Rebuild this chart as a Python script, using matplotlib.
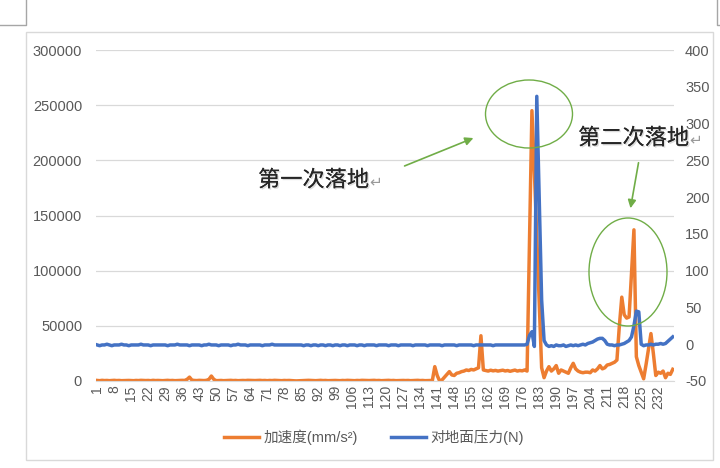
import matplotlib
matplotlib.use("Agg")
import matplotlib.pyplot as plt
import matplotlib.patheffects as pe
from matplotlib.patches import Ellipse, Rectangle
from matplotlib.lines import Line2D
from matplotlib.font_manager import FontProperties

plt.rcParams['font.family'] = ['Liberation Sans', 'Noto Sans CJK SC', 'DejaVu Sans']
plt.rcParams['axes.unicode_minus'] = False

# sample index 1..238
categories = list(range(1, 239))

# 加速度 (mm/s²), left axis
accel = [
    500, 300, 600, 400, 500, 300, 500, 600, 400, 500, 300, 400, 600, 500, 400, 300, 500, 400, 600, 500,
    400, 500, 300, 600, 400, 500, 400, 300, 500, 600, 400, 500, 300, 400, 500, 600, 500, 1500, 3500, 800,
    500, 400, 600, 500, 400, 600, 1500, 4500, 1500, 300, 400, 500, 300, 400, 500, 600, 400, 500, 300, 400,
    500, 400, 600, 500, 300, 400, 500, 600, 400, 500, 300, 500, 400, 600, 500, 400, 300, 500, 400, 500,
    300, 200, 100, 200, 300, 500, 400, 600, 500, 400, 300, 500, 600, 400, 500, 300, 400, 600, 500, 400,
    300, 500, 400, 600, 500, 400, 300, 500, 400, 600, 500, 300, 400, 500, 600, 400, 500, 300, 400, 500,
    600, 400, 500, 300, 400, 600, 500, 400, 500, 300, 400, 500, 600, 400, 500, 300, 400, 500,
    500, 13000, 5000, 0, 1000, 3500, 6000, 8500, 5500, 5000, 7000, 7500, 8500, 9000, 10000, 9500, 10500, 10000, 11000, 12000,
    41000, 10000, 9500, 9000, 9800, 9200, 9600, 9000, 9400, 9800, 9100, 9500, 8800, 9400, 9900, 9000, 9500, 9200, 10000, 9000,
    125000, 245000, 190000, 130000, 70000, 12000, 3000, 9000, 13000, 9000, 11000, 14000, 7000, 10000, 9000, 8000, 7000, 12000, 16000, 11000,
    9000, 8000, 7500, 8000, 8000, 7500, 10000, 9000, 11000, 14000, 11000, 12000, 14500, 15000, 16000, 17000, 19000, 50000, 76000, 60000,
    57000, 58000, 97000, 137000, 22000, 14000, 8000, 2000, 15000, 29000, 43000, 25000, 5000, 8000, 7000, 9000, 3000, 7000, 6000, 10600,
]

# 对地面压力 (N), right axis
force = [
    -1, -2, -1, -1, 0, -1, -2, -1, -1, -1, 0, -1, -1, -2, -1, -1, -1, -1, 0, -1,
    -1, -1, -2, -1, -1, -1, -1, -1, -1, -2, -1, -1, -1, 0, -1, -1, -1, -1, -2, -1,
    -1, -1, -1, -2, -1, -1, 0, -1, -1, -1, -2, -1, -1, -1, -1, -2, -1, -1, 0, -1,
    -1, -1, -2, -1, -1, -1, -1, -1, -2, -1, -1, -1, 0, -1, -1, -1, -1, -1, -1, -1,
    -1, -1, -1, -1, -1, -2, -1, -1, -2, -1, -1, -2, -1, -1, -2, -1, -1, -2, -1, -1,
    -2, -1, -1, -2, -1, -1, -1, -2, -1, -1, -2, -1, -1, -1, -1, -2, -1, -1, -1, -1,
    -2, -1, -1, -1, -2, -1, -1, -1, -1, -1, -2, -1, -1, -1, -1, -1, -2, -1, -1, -1,
    -1, -1, -2, -1, -1, -1, -1, -1, -2, -1, -1, -1, -1, -1, -1, -2, -1, -1, -1, -1,
    -1, -1, -1, -2, -1, -1, -1, -1, -1, -1, -1, -1, -1, -1, -1, -1, -1, 0,
    12, 17, -3, 337, 200, 60, 5, -1,
    -3, -2, -3, -1, -2, -2, -1, -3, -2, -1, -2, -1, -2, -1, 0, -1, 1, 2,
    3, 5, 7, 8, 8, 5, 0, -1, -1, -2, -1, -1, 0, 1, 3, 5, 10, 25, 45, 44,
    0, -2, -1, -1, 0, -1, 0, 0, 1, 0, 1, 4, 7, 10,
]

assert len(accel) == len(categories) and len(force) == len(categories)

orange = '#ED7D31'
blue = '#4472C4'
grid_c = '#D9D9D9'
tick_c = '#595959'
green = '#70AD47'

W, H = 720, 468
fig = plt.figure(figsize=(W / 100, H / 100), dpi=100)

ax = fig.add_axes([96 / W, 1 - 381 / H, (674 - 96) / W, (381 - 50) / H])
ax.plot(categories, accel, color=orange, lw=2.5, solid_joinstyle='round')
ax.set_xlim(0.5, 238.5)
ax.set_ylim(0, 300000)
ax.set_yticks(range(0, 300001, 50000))
ax.grid(axis='y', color=grid_c, lw=0.9)
ax.set_axisbelow(True)
for s in ['top', 'left', 'right']:
    ax.spines[s].set_visible(False)
ax.spines['bottom'].set_color(grid_c)
ax.set_xticks(categories[::7])
ax.set_xticklabels([str(c) for c in categories[::7]], rotation=90, fontsize=10, color=tick_c)
ax.tick_params(axis='x', length=0, pad=3)
ax.tick_params(axis='y', length=0, pad=10, labelsize=10.5, labelcolor=tick_c)

ax2 = ax.twinx()
ax2.plot(categories, force, color=blue, lw=2.5, solid_joinstyle='round')
ax2.set_ylim(-50, 400)
ax2.set_yticks(range(-50, 401, 50))
for s in ax2.spines.values():
    s.set_visible(False)
ax2.tick_params(axis='y', length=0, pad=8, labelsize=10.5, labelcolor=tick_c)

handles = [Line2D([], [], color=orange, lw=2.5), Line2D([], [], color=blue, lw=2.5)]
fig.legend(handles, ['加速度(mm/s²)', '对地面压力(N)'], loc='center', ncol=2,
           bbox_to_anchor=(374 / W, 1 - 437 / H), frameon=False, handlelength=2.4,
           handletextpad=0.3, columnspacing=2.3,
           prop=FontProperties(family=['Liberation Sans', 'Noto Sans CJK SC'], size=10.5),
           labelcolor=tick_c)

# overlay in pixel coordinates for the frame and the hand-drawn notes
ov = fig.add_axes([0, 0, 1, 1], zorder=10)
ov.set_xlim(0, W)
ov.set_ylim(H, 0)
ov.axis('off')
ov.patch.set_alpha(0)

ov.add_patch(Rectangle((26, 32), 687, 428, fill=False, ec=grid_c, lw=1))
ov.plot([0, 26, 26], [25, 25, 0], color='#A6A6A6', lw=1)
ov.plot([717, 717, 720], [0, 25, 25], color='#A6A6A6', lw=1)

ov.add_patch(Ellipse((529, 114), 87, 68, fill=False, ec=green, lw=1))
ov.add_patch(Ellipse((628, 272), 78, 108, fill=False, ec=green, lw=1))
ov.annotate('', xy=(476, 137), xytext=(402, 167),
            arrowprops=dict(arrowstyle='-|>', color=green, lw=1.2, mutation_scale=12))
ov.annotate('', xy=(630, 211), xytext=(639, 160),
            arrowprops=dict(arrowstyle='-|>', color=green, lw=1.2, mutation_scale=12))

shadow = [pe.withSimplePatchShadow(offset=(1, -1), shadow_rgbFace='#999999', alpha=0.35), pe.Normal()]
cjk = ['Noto Sans CJK SC', 'DejaVu Sans']
t1 = ov.text(258, 180, '第一次落地', fontsize=16, family=cjk, color='#262626', va='center', ha='left')
t1.set_path_effects(shadow)
ov.text(369, 182, '↵', fontsize=11, family=['DejaVu Sans'], color='#9a9a9a', va='center', ha='left')
t2 = ov.text(578, 138, '第二次落地', fontsize=16, family=cjk, color='#262626', va='center', ha='left')
t2.set_path_effects(shadow)
ov.text(689, 140, '↵', fontsize=11, family=['DejaVu Sans'], color='#9a9a9a', va='center', ha='left')

fig.savefig('out.png', dpi=100)
